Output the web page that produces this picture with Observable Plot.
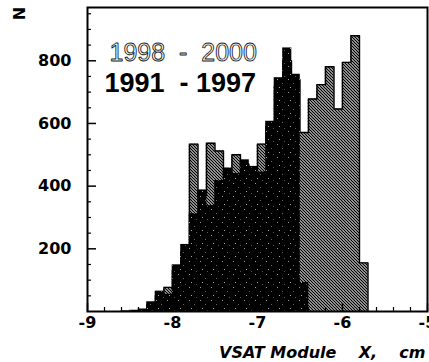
<!DOCTYPE html>
<html><head><meta charset="utf-8">
<script src="https://cdn.jsdelivr.net/npm/d3@7"></script>
<script src="https://cdn.jsdelivr.net/npm/@observablehq/plot@0.6"></script>
<style>html,body{margin:0;padding:0;background:#fff} svg{display:block}</style>
</head><body><div id="chart"></div>
<script>
// Histogram bins (left edges, width 0.1 cm) and counts
const binWidth = 0.1;
const bins1991 = [-8.6,-8.5,-8.4,-8.3,-8.2,-8.1,-8.0,-7.9,-7.8,-7.7,-7.6,-7.5,-7.4,-7.3,-7.2,-7.1,-7.0,-6.9,-6.8,-6.7,-6.6,-6.5];
const counts1991 = [2,4,8,31,65,55,149,214,312,388,338,418,458,440,484,463,445,607,746,841,757,93];
const bins1998 = [-8.3,-8.2,-8.1,-8.0,-7.9,-7.8,-7.7,-7.6,-7.5,-7.4,-7.3,-7.2,-7.1,-7.0,-6.9,-6.8,-6.7,-6.6,-6.5,-6.4,-6.3,-6.2,-6.1,-6.0,-5.9,-5.8];
const counts1998 = [22,50,77,130,190,534,370,537,512,440,500,470,450,534,590,720,800,740,571,678,724,781,646,795,880,155];
const xTicks = [-9,-8,-7,-6,-5];
const yTicks = [200,400,600,800];
const legendLabels = ["1998\u00a0\u00a0-\u00a0\u00a02000", "1991\u00a0\u00a0-\u00a01997"];
const xLabel = "VSAT Module\u00a0\u00a0\u00a0\u00a0X,\u00a0\u00a0\u00a0\u00a0cm";
const yLabel = "N";

const r2 = v => Math.round(v * 100) / 100;
const black = bins1991.map((x, i) => ({x1: x, x2: r2(x + binWidth), y: counts1991[i]}));
const hatch = bins1998.map((x, i) => ({x1: x, x2: r2(x + binWidth), y: counts1998[i]}));
const outline = [{x: bins1998[0], y: 0}, ...hatch.map(d => ({x: d.x1, y: d.y})),
  {x: hatch[hatch.length - 1].x2, y: hatch[hatch.length - 1].y}, {x: hatch[hatch.length - 1].x2, y: 0}];
const xMinor = d3.range(-9, -4.99, 0.2).map(r2).filter(v => !xTicks.includes(v));
const yMinor = d3.range(50, 970, 50).filter(v => !yTicks.includes(v));

const chart = Plot.plot({
  width: 429, height: 362,
  marginLeft: 87, marginRight: 2, marginTop: 7, marginBottom: 51,
  x: {domain: [-9, -5]},
  y: {domain: [0, 970]},
  style: {fontFamily: "'DejaVu Sans', sans-serif", fontWeight: "bold", fontSize: "16px", color: "#000", background: "#fff"},
  marks: [
    Plot.rect(hatch, {x1: "x1", x2: "x2", y1: 0, y2: "y", fill: "url(#hatch98)", insetLeft: -0.3, insetRight: -0.3}),
    Plot.line(outline, {x: "x", y: "y", curve: "step-after", stroke: "#000", strokeWidth: 1.4}),
    Plot.rect(black, {x1: "x1", x2: "x2", y1: 0, y2: "y", fill: "url(#speckle)", insetLeft: -0.3, insetRight: -0.3}),
    Plot.axisX({ticks: xTicks, tickSize: -8, strokeWidth: 1.5, tickFormat: () => "", label: null}),
    Plot.axisX({ticks: xMinor, tickSize: -4, strokeWidth: 1.2, tickFormat: () => "", label: null}),
    Plot.axisX({ticks: xTicks, tickSize: 0, tickPadding: 5, tickFormat: d => String(d), label: null, fontSize: 16}),
    Plot.axisY({ticks: yTicks, tickSize: -9, strokeWidth: 1.5, tickFormat: () => "", label: null}),
    Plot.axisY({ticks: yMinor, tickSize: -4, strokeWidth: 1.2, tickFormat: () => "", label: null}),
    Plot.axisY({ticks: yTicks, tickSize: 0, tickPadding: 16, tickFormat: d => String(d), label: null, fontSize: 16}),
    Plot.frame({stroke: "#000", strokeWidth: 2}),
    Plot.text([legendLabels[0]], {frameAnchor: "top-left", text: d => d, dx: 22, dy: 45, textAnchor: "start", lineAnchor: "middle",
      fontFamily: "'Liberation Sans', Arial, sans-serif", fontWeight: "normal", fontSize: 25, fill: "#fff", stroke: "#222", strokeWidth: 0.9, paintOrder: "fill"}),
    Plot.text([legendLabels[1]], {frameAnchor: "top-left", text: d => d, dx: 17, dy: 76, textAnchor: "start", lineAnchor: "middle",
      fontFamily: "'Liberation Sans', Arial, sans-serif", fontWeight: "bold", fontSize: 27, fill: "#000"}),
    Plot.text([xLabel], {frameAnchor: "bottom-right", text: d => d, dx: -2, dy: 41, textAnchor: "end", lineAnchor: "middle",
      fontStyle: "italic", fontSize: 16}),
    Plot.text([yLabel], {frameAnchor: "top-left", text: d => d, dx: -68, dy: 6, rotate: -90, textAnchor: "middle", lineAnchor: "middle", fontSize: 16})
  ]
});

const svg = chart.tagName.toLowerCase() === "svg" ? chart : chart.querySelector("svg");
const defs = document.createElementNS("http://www.w3.org/2000/svg", "defs");
defs.innerHTML = `
  <pattern id="hatch98" patternUnits="userSpaceOnUse" width="3" height="3">
    <rect width="3" height="3" fill="#fff"/>
    <path d="M-1,-1L4,4M-1,2L1,4M2,-1L4,1" stroke="#000" stroke-width="1.3"/>
  </pattern>
  <pattern id="speckle" patternUnits="userSpaceOnUse" width="11" height="13">
    <rect width="11" height="13" fill="#000"/>
    <rect x="2" y="1" width="1" height="1" fill="#999"/>
    <rect x="7" y="5" width="1" height="1" fill="#666"/>
    <rect x="4" y="9" width="1" height="1" fill="#aaa"/>
    <rect x="9" y="11" width="1" height="1" fill="#555"/>
  </pattern>`;
svg.insertBefore(defs, svg.firstChild);
document.getElementById("chart").appendChild(chart);
</script>
</body></html>
